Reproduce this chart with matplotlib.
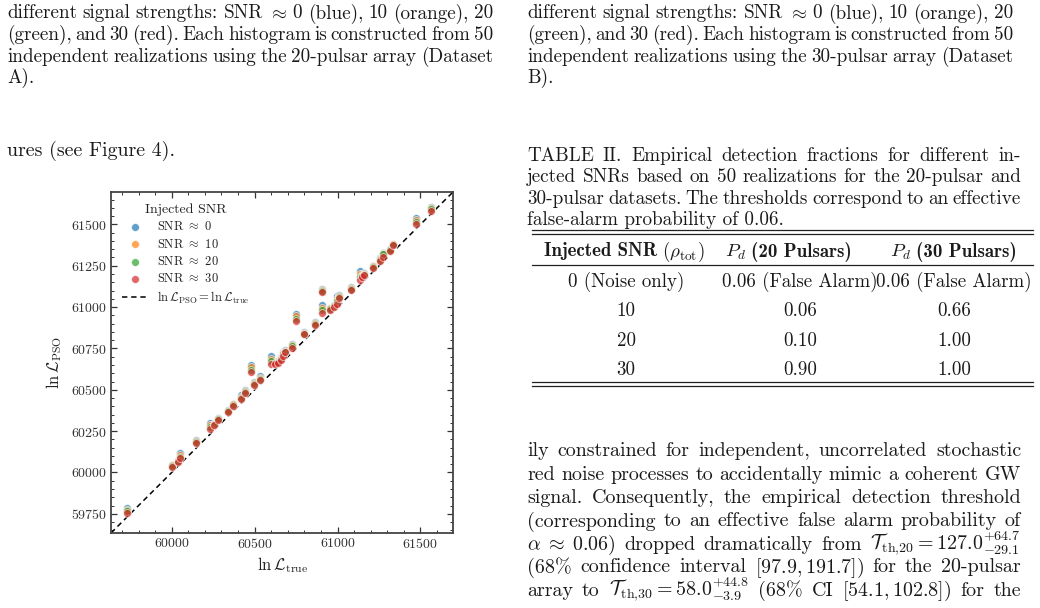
import matplotlib
matplotlib.use('Agg')
import matplotlib.pyplot as plt
from matplotlib.lines import Line2D
from matplotlib.ticker import MultipleLocator

plt.rcParams['font.family'] = ['cmr10']
plt.rcParams['mathtext.fontset'] = 'cm'
plt.rcParams['axes.formatter.use_mathtext'] = True
plt.rcParams['axes.unicode_minus'] = False

# ---------------- data ----------------
ln_true = [59728, 60002, 60040, 60052, 60145, 60232, 60257, 60277, 60338, 60369,
           60418, 60440, 60480, 60498, 60532, 60601, 60620, 60639, 60660, 60672,
           60684, 60728, 60752, 60799, 60864, 60907, 60907, 60954, 60978, 60999,
           61009, 61079, 61137, 61150, 61157, 61211, 61257, 61271, 61317, 61336,
           61474, 61565]
pso_snr0 = [59783, 60048, 60075, 60118, 60195, 60300, 60296, 60330, 60376, 60417,
            60467, 60497, 60647, 60547, 60582, 60702, 60668, 60675, 60700, 60730,
            60742, 60779, 60958, 60848, 60910, 61112, 61012, 60996, 61012, 61065,
            61075, 61123, 61218, 61200, 61208, 61250, 61295, 61328, 61352, 61383,
            61538, 61604]
pso_snr10 = [59774, 60043, 60071, 60107, 60190, 60287, 60293, 60325, 60373, 60412,
             60459, 60491, 60635, 60540, 60574, 60687, 60663, 60671, 60694, 60722,
             60737, 60771, 60944, 60844, 60904, 61105, 60996, 60992, 61008, 61050,
             61068, 61116, 61200, 61193, 61203, 61246, 61290, 61319, 61347, 61380,
             61527, 61597]
pso_snr20 = [59765, 60039, 60068, 60096, 60184, 60274, 60289, 60321, 60369, 60406,
             60452, 60485, 60622, 60534, 60565, 60673, 60659, 60666, 60689, 60714,
             60731, 60763, 60930, 60839, 60899, 61098, 60980, 60988, 61004, 61035,
             61062, 61110, 61181, 61187, 61197, 61242, 61285, 61322, 61343, 61376,
             61515, 61591]
pso_snr30 = [59756, 60034, 60064, 60085, 60179, 60261, 60286, 60316, 60366, 60401,
             60444, 60479, 60610, 60527, 60557, 60658, 60654, 60662, 60683, 60706,
             60726, 60755, 60916, 60835, 60893, 61091, 60964, 60984, 61000, 61020,
             61055, 61103, 61163, 61180, 61192, 61238, 61280, 61302, 61338, 61373,
             61504, 61584]
snr_labels = ["0", "10", "20", "30"]
series_colors = ["#1f77b4", "#ff7f0e", "#2ca02c", "#d62728"]
axis_lims = [59634, 61696]

caption_left = [
    "different signal strengths: SNR ${\\approx}$ 0 (blue), 10 (orange), 20",
    "(green), and 30 (red). Each histogram is constructed from 50",
    "independent realizations using the 20-pulsar array (Dataset",
    "A).",
]
caption_right = [
    "different signal strengths: SNR ${\\approx}$ 0 (blue), 10 (orange), 20",
    "(green), and 30 (red). Each histogram is constructed from 50",
    "independent realizations using the 30-pulsar array (Dataset",
    "B).",
]
table_caption = [
    "TABLE II. Empirical detection fractions for different in-",
    "jected SNRs based on 50 realizations for the 20-pulsar and",
    "30-pulsar datasets. The thresholds correspond to an effective",
    "false-alarm probability of 0.06.",
]
# header pieces: (text, family)
table_header = [
    [("Injected SNR", "cmb10"), (r"$(\rho_{\mathrm{tot}})$", "cmr10")],
    [(r"$P_d$", "cmr10"), ("(20 Pulsars)", "cmb10")],
    [(r"$P_d$", "cmr10"), ("(30 Pulsars)", "cmb10")],
]
table_col1 = ["0 (Noise only)", "10", "20", "30"]
table_col2 = ["0.06 (False Alarm)", "0.06", "0.10", "0.90"]
table_col3 = ["0.06 (False Alarm)", "0.66", "1.00", "1.00"]
body_right = [
    "ily constrained for independent, uncorrelated stochastic",
    "red noise processes to accidentally mimic a coherent GW",
    "signal. Consequently, the empirical detection threshold",
    "(corresponding to an effective false alarm probability of",
    r"$\alpha\;\approx\;0.06$) dropped dramatically from $\mathcal{T}_{\mathrm{th{,}20}}=127.0^{+64.7}_{-29.1}$",
    r"(68% confidence interval $[97.9,191.7]$) for the 20-pulsar",
    r"array to $\mathcal{T}_{\mathrm{th{,}30}}=58.0^{+44.8}_{-3.9}$ (68% CI $[54.1,102.8]$) for the",
]
left_note = "ures (see Figure 4)."

# ---------------- figure ----------------
W, H = 1040, 608
fig = plt.figure(figsize=(W / 100, H / 100), dpi=100)
renderer = fig.canvas.get_renderer()
TXT = '#1a1a1a'


def fx(x):
    return x / W


def fy(y):
    return 1 - y / H


def split_words(s):
    out, cur, inmath = [], '', False
    for ch in s:
        if ch == '$':
            inmath = not inmath
        if ch == ' ' and not inmath:
            out.append(cur)
            cur = ''
        else:
            cur += ch
    out.append(cur)
    return [w for w in out if w]


def put_line(text, x0, x1, yb, size, justify=True):
    if not justify:
        fig.text(fx(x0), fy(yb), text, fontsize=size, va='baseline', ha='left', color=TXT)
        return
    words = split_words(text)
    ts = [fig.text(0, fy(yb), w, fontsize=size, va='baseline', ha='left', color=TXT)
          for w in words]
    widths = [t.get_window_extent(renderer).width for t in ts]
    gap = (x1 - x0 - sum(widths)) / max(len(words) - 1, 1)
    x = x0
    for t, w in zip(ts, widths):
        t.set_x(fx(x))
        x += w + gap


def put_pieces(pieces, xc, yb, size, gap=5):
    ts = [fig.text(0, fy(yb), s, fontsize=size, family=fam, va='baseline', ha='left',
                   color=TXT) for s, fam in pieces]
    widths = [t.get_window_extent(renderer).width for t in ts]
    total = sum(widths) + gap * (len(ts) - 1)
    x = xc - total / 2
    for t, w in zip(ts, widths):
        t.set_x(fx(x))
        x += w + gap


FS_CAP = 13.8
FS_BODY = 14.4
FS_TAB = 13.6
# top captions
cap_base = [18.5, 40.2, 61.8, 83.4]
for i, s in enumerate(caption_left):
    put_line(s, 7, 493, cap_base[i], FS_CAP, justify=(i < 3))
for i, s in enumerate(caption_right):
    put_line(s, 527, 1013, cap_base[i], FS_CAP, justify=(i < 3))

put_line(left_note, 7, 493, 156, FS_BODY, justify=False)

# table caption
tc_base = [161, 182.5, 203.5, 224.5]
for i, s in enumerate(table_caption):
    put_line(s, 527, 1021, tc_base[i], FS_CAP, justify=(i < 3))


def hrule(y, x0=531.5, x1=1033, lw=0.9):
    fig.add_artist(Line2D([fx(x0), fx(x1)], [fy(y), fy(y)], transform=fig.transFigure,
                          color='#222222', lw=lw))


hrule(229.5)
hrule(233.5)
hrule(265)
hrule(381.5)
hrule(386)

hdr_x = [624, 788, 953]
for pcs, x in zip(table_header, hdr_x):
    put_pieces(pcs, x, 256.5, FS_TAB)
col_x = [626, 800, 954]
row_base = [287, 316.5, 346, 375]
for j, col in enumerate([table_col1, table_col2, table_col3]):
    for i, s in enumerate(col):
        fig.text(fx(col_x[j]), fy(row_base[i]), s, fontsize=FS_TAB, ha='center',
                 va='baseline', color=TXT)

# body text right column
body_base = [456, 479.5, 503, 526.5, 550, 572.5, 596]
for i, s in enumerate(body_right):
    put_line(s, 527, 1021, body_base[i], FS_BODY, justify=True)

# ---------------- scatter plot ----------------
ax = fig.add_axes([fx(111), fy(533), 342 / W, 341 / H])
for ys, lab, c in zip([pso_snr0, pso_snr10, pso_snr20, pso_snr30], snr_labels, series_colors):
    ax.scatter(ln_true, ys, s=32, color=c, alpha=0.7, edgecolor='white', linewidth=0.6,
               label=f"SNR $\\approx$ {lab}", zorder=3)
ax.plot(axis_lims, axis_lims, color='black', ls='--', lw=1.1, dashes=(3.5, 2.5),
        label=r"$\ln\mathcal{L}_{\rm PSO}=\ln\mathcal{L}_{\rm true}$", zorder=2)
ax.set_xlim(axis_lims)
ax.set_ylim(axis_lims)
ax.xaxis.set_major_locator(MultipleLocator(500))
ax.xaxis.set_minor_locator(MultipleLocator(100))
ax.yaxis.set_major_locator(MultipleLocator(250))
ax.yaxis.set_minor_locator(MultipleLocator(50))
ax.tick_params(which='both', direction='in', top=True, right=True, colors='#333333',
               labelsize=10, labelcolor='#333333')
ax.tick_params(which='major', length=4.5, width=0.9, pad=3)
ax.tick_params(which='minor', length=2.5, width=0.7)
for sp in ax.spines.values():
    sp.set_color('#444444')
    sp.set_linewidth(1.3)
ax.set_xlabel(r"$\ln\mathcal{L}_{\rm true}$", fontsize=12, color='#222222', labelpad=3)
ax.set_ylabel(r"$\ln\mathcal{L}_{\rm PSO}$", fontsize=12, color='#222222', labelpad=5)
leg = ax.legend(loc='upper left', frameon=False, title='Injected SNR', fontsize=9,
                title_fontsize=10, labelspacing=0.35, handlelength=2.0,
                handletextpad=0.8, borderaxespad=0.5)
for t in leg.get_texts():
    t.set_color('#222222')
leg.get_title().set_color('#222222')

fig.savefig('out.png', dpi=100)
